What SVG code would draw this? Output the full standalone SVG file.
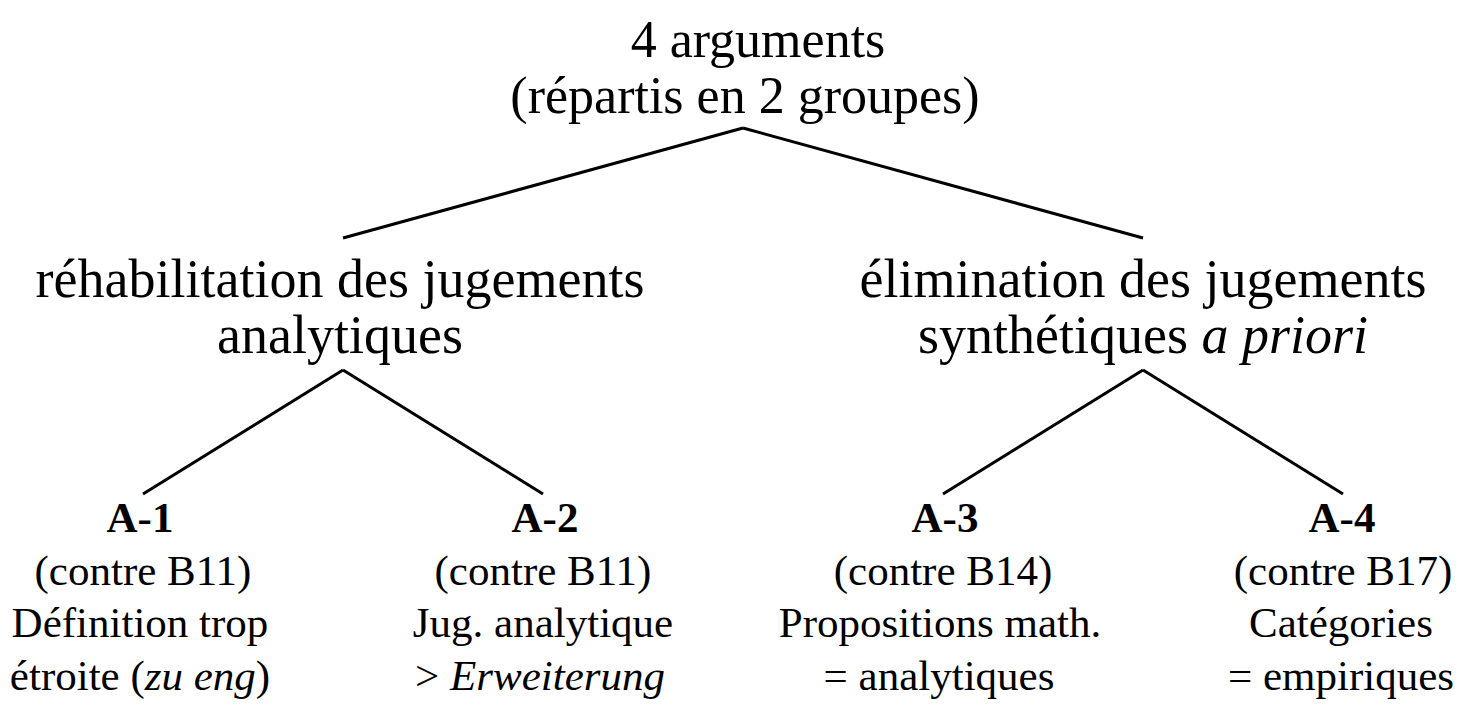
<svg xmlns="http://www.w3.org/2000/svg" width="1467" height="708" viewBox="0 0 1467 708">
<style>
text { font-family: "Liberation Serif", "Times New Roman", serif; fill: #000; text-anchor: middle; }
.t1 { font-size: 52px; }
.t2 { font-size: 54px; }
.t3 { font-size: 43px; }
.b { font-weight: bold; }
.i { font-style: italic; }
.edge { stroke: #000; stroke-width: 3; fill: none; }
</style>
<rect width="1467" height="708" fill="#fff"/>
<g id="connectors">
<line class="edge" x1="743" y1="128" x2="343" y2="238"/>
<line class="edge" x1="743" y1="128" x2="1143" y2="238"/>
<line class="edge" x1="343" y1="370" x2="143" y2="494"/>
<line class="edge" x1="343" y1="370" x2="543" y2="494"/>
<line class="edge" x1="1143" y1="370" x2="943" y2="494"/>
<line class="edge" x1="1143" y1="370" x2="1343" y2="494"/>
</g>
<g id="root">
<text class="t1" x="758" y="57">4 arguments</text>
<text class="t1" x="745" y="113">(répartis en 2 groupes)</text>
</g>
<g id="group1">
<text class="t2" x="340" y="297">réhabilitation des jugements</text>
<text class="t2" x="340" y="353">analytiques</text>
</g>
<g id="group2">
<text class="t2" x="1143" y="297">élimination des jugements</text>
<text class="t2" x="1143" y="353">synthétiques <tspan class="i">a priori</tspan></text>
</g>
<g id="a1">
<text class="t3 b" x="140" y="532">A-1</text>
<text class="t3" x="143" y="585">(contre B11)</text>
<text class="t3" x="140" y="637">Définition trop</text>
<text class="t3" x="140" y="690">étroite (<tspan class="i">zu eng</tspan>)</text>
</g>
<g id="a2">
<text class="t3 b" x="545" y="532">A-2</text>
<text class="t3" x="543" y="585">(contre B11)</text>
<text class="t3" x="543" y="637">Jug. analytique</text>
<text class="t3" x="540" y="690">&gt; <tspan class="i">Erweiterung</tspan></text>
</g>
<g id="a3">
<text class="t3 b" x="945" y="532">A-3</text>
<text class="t3" x="943" y="585">(contre B14)</text>
<text class="t3" x="940" y="637">Propositions math.</text>
<text class="t3" x="939" y="690">= analytiques</text>
</g>
<g id="a4">
<text class="t3 b" x="1342" y="532">A-4</text>
<text class="t3" x="1343" y="585">(contre B17)</text>
<text class="t3" x="1341" y="637">Catégories</text>
<text class="t3" x="1341" y="690">= empiriques</text>
</g>
</svg>
